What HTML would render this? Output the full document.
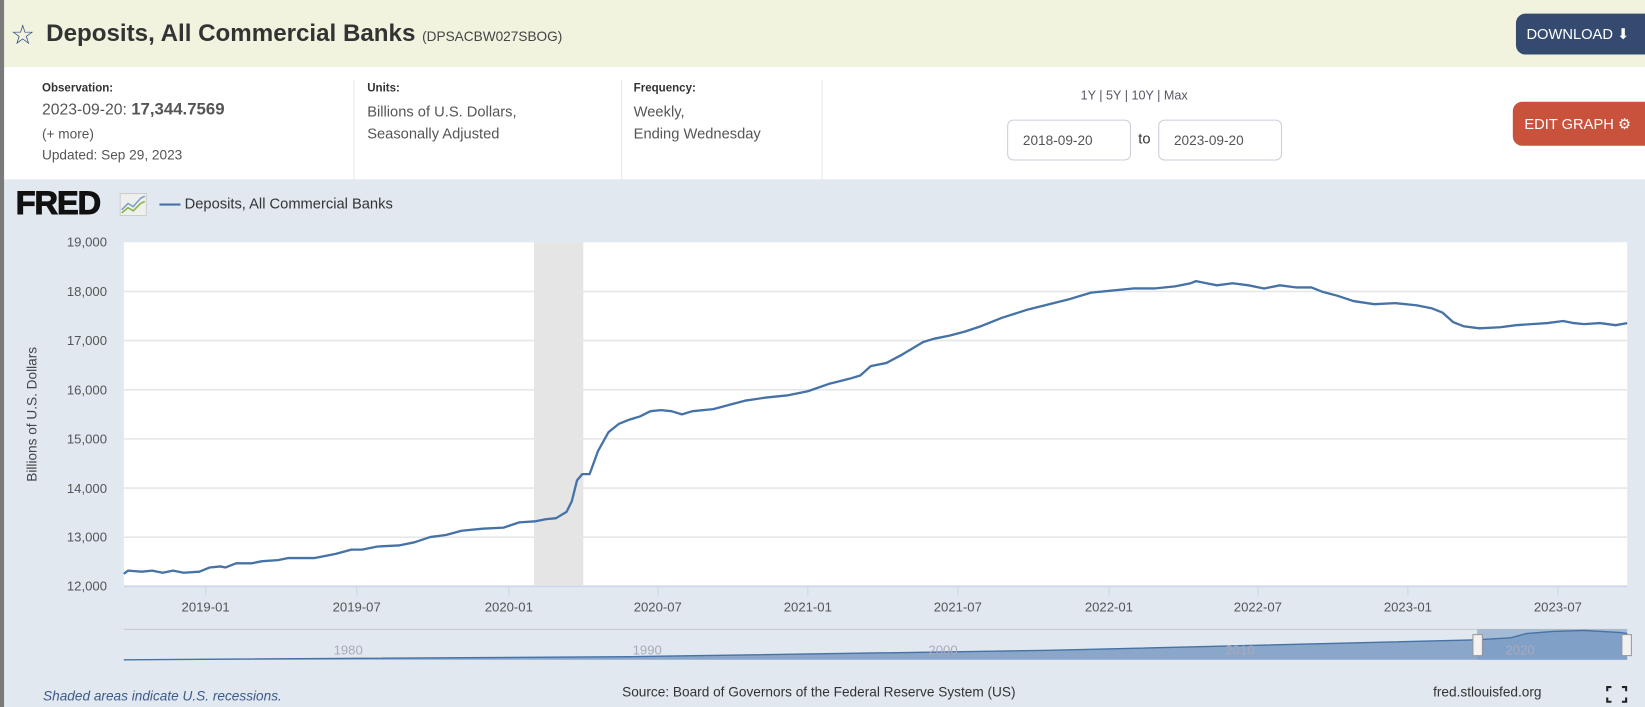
<!DOCTYPE html>
<html><head><meta charset="utf-8"><style>
html,body{margin:0;padding:0;width:1645px;height:707px;overflow:hidden;background:#fff;}
#w{position:absolute;left:0;top:0;width:1568px;height:674px;transform:scale(1.04911,1.04896);transform-origin:0 0;font-family:"Liberation Sans","DejaVu Sans",sans-serif;}
.a{position:absolute;white-space:nowrap;}
</style></head><body><div id="w">
<div class="a" style="left:0;top:0;width:4px;height:674px;background:#7a7a7a"></div>
<div class="a" style="left:4px;top:0;width:1564px;height:64px;background:#f1f3df"></div>
<div class="a" style="left:10px;top:18px;font-size:26px;color:#2b4c7e">☆</div>
<div class="a" style="left:44px;top:18px;font-size:23px;font-weight:bold;color:#333">Deposits, All Commercial Banks <span style="font-size:13px;font-weight:normal;color:#444">(DPSACBW027SBOG)</span></div>
<div class="a" style="left:1445px;top:13px;width:123px;height:39px;background:#344a6f;border-radius:9px 0 0 9px;color:#fff;font-size:14px;line-height:39px;padding-left:10px;box-sizing:border-box">DOWNLOAD ⬇</div>
<div class="a" style="left:4px;top:64px;width:1564px;height:107px;background:#fff"></div>
<div class="a" style="left:40px;top:78px;font-size:11px;font-weight:bold;color:#333">Observation:</div>
<div class="a" style="left:40px;top:96px;font-size:15px;color:#555">2023-09-20: <b style="font-size:16px;color:#555">17,344.7569</b></div>
<div class="a" style="left:40px;top:120px;font-size:13px;color:#555">(+ more)</div>
<div class="a" style="left:40px;top:140px;font-size:13px;color:#555">Updated: Sep 29, 2023</div>
<div class="a" style="left:337px;top:76px;width:1px;height:95px;background:#e3e8ee"></div>
<div class="a" style="left:350px;top:78px;font-size:11px;font-weight:bold;color:#333">Units:</div>
<div class="a" style="left:350px;top:96px;font-size:14px;color:#555;line-height:21px">Billions of U.S. Dollars,<br>Seasonally Adjusted</div>
<div class="a" style="left:592px;top:76px;width:1px;height:95px;background:#e3e8ee"></div>
<div class="a" style="left:604px;top:78px;font-size:11px;font-weight:bold;color:#333">Frequency:</div>
<div class="a" style="left:604px;top:96px;font-size:14px;color:#555;line-height:21px">Weekly,<br>Ending Wednesday</div>
<div class="a" style="left:783px;top:76px;width:1px;height:95px;background:#e3e8ee"></div>
<div class="a" style="left:1030px;top:84px;font-size:12px;color:#556">1Y | 5Y | 10Y | Max</div>
<div class="a" style="left:960px;top:114px;width:118px;height:39px;border:1px solid #ccd;border-radius:6px;box-sizing:border-box;font-size:13px;color:#555;line-height:37px;padding-left:14px">2018-09-20</div>
<div class="a" style="left:1085px;top:124px;font-size:14px;color:#333">to</div>
<div class="a" style="left:1104px;top:114px;width:118px;height:39px;border:1px solid #ccd;border-radius:6px;box-sizing:border-box;font-size:13px;color:#555;line-height:37px;padding-left:14px">2023-09-20</div>
<div class="a" style="left:1442px;top:97px;width:126px;height:42px;background:#c8523b;border-radius:9px 0 0 9px;color:#fff;font-size:14px;line-height:42px;padding-left:11px;box-sizing:border-box">EDIT GRAPH ⚙</div>
<div class="a" style="left:4px;top:171px;width:1564px;height:503px;background:#e1e8f0"></div>
<div class="a" style="left:15px;top:176px;font-size:31px;font-weight:900;color:#111;letter-spacing:-1px;-webkit-text-stroke:1px #111">FRED</div>
<svg class="a" style="left:114px;top:184px" width="26" height="22"><rect x="0.5" y="0.5" width="25" height="21" fill="#eef0ee" stroke="#ccc"/><polyline points="2,16 8,10 13,13 20,5 24,3" fill="none" stroke="#7aa0c8" stroke-width="1.5"/><polyline points="2,19 8,14 13,17 20,10 24,8" fill="none" stroke="#8ab34a" stroke-width="1.5"/></svg>
<div class="a" style="left:152px;top:194px;width:20px;height:2px;background:#4572a7"></div>
<div class="a" style="left:176px;top:186px;font-size:14px;color:#333">Deposits, All Commercial Banks</div>
<svg class="a" style="left:0;top:0" width="1568" height="674">
<rect x="118" y="231" width="1433" height="327" fill="#fff"/>
<rect x="509" y="231" width="47" height="327" fill="#e5e5e5"/>
<g stroke="#e6e6e6" stroke-width="1.5">
<line x1="118" x2="1551" y1="277.9" y2="277.9"/><line x1="118" x2="1551" y1="324.7" y2="324.7"/><line x1="118" x2="1551" y1="371.6" y2="371.6"/><line x1="118" x2="1551" y1="418.4" y2="418.4"/><line x1="118" x2="1551" y1="465.3" y2="465.3"/><line x1="118" x2="1551" y1="512.1" y2="512.1"/></g>
<line x1="118" x2="1551" y1="559" y2="559" stroke="#ccd6eb" stroke-width="1.5"/>
<g stroke="#ccd6eb"><line x1="196" x2="196" y1="559" y2="568"/><line x1="340" x2="340" y1="559" y2="568"/><line x1="485" x2="485" y1="559" y2="568"/><line x1="627" x2="627" y1="559" y2="568"/><line x1="770" x2="770" y1="559" y2="568"/><line x1="913" x2="913" y1="559" y2="568"/><line x1="1057" x2="1057" y1="559" y2="568"/><line x1="1199" x2="1199" y1="559" y2="568"/><line x1="1342" x2="1342" y1="559" y2="568"/><line x1="1485" x2="1485" y1="559" y2="568"/></g>
<g font-size="12.5" fill="#555" text-anchor="end" font-family="Liberation Sans, sans-serif">
<text x="102" y="235">19,000</text><text x="102" y="282">18,000</text><text x="102" y="329">17,000</text><text x="102" y="376">16,000</text><text x="102" y="423">15,000</text><text x="102" y="470">14,000</text><text x="102" y="516">13,000</text><text x="102" y="563">12,000</text></g>
<text transform="translate(35,395) rotate(-90)" font-size="13" fill="#444" text-anchor="middle" font-family="Liberation Sans, sans-serif">Billions of U.S. Dollars</text>
<g font-size="12.5" fill="#555" text-anchor="middle" font-family="Liberation Sans, sans-serif">
<text x="196" y="583">2019-01</text><text x="340" y="583">2019-07</text><text x="485" y="583">2020-01</text><text x="627" y="583">2020-07</text><text x="770" y="583">2021-01</text><text x="913" y="583">2021-07</text><text x="1057" y="583">2022-01</text><text x="1199" y="583">2022-07</text><text x="1342" y="583">2023-01</text><text x="1485" y="583">2023-07</text></g>
<polyline fill="none" stroke="#4572a7" stroke-width="2.2" stroke-linejoin="round" points="118,547 122,544 135,545 145,544 155,546 165,544 175,546 190,545 200,541 210,540 215,541 225,537 240,537 250,535 265,534 275,532 300,532 320,528 335,524 345,524 360,521 380,520 395,517 410,512 425,510 440,506 460,504 480,503 495,498 510,497 520,495 530,494 540,488 545,478 550,458 555,452 562,452 570,430 580,412 590,404 600,400 610,397 620,392 630,391 640,392 650,395 660,392 680,390 695,386 710,382 730,379 750,377 770,373 790,366 810,361 820,358 830,349 845,346 860,338 880,326 890,323 905,320 920,316 935,311 955,303 980,295 1000,290 1020,285 1040,279 1060,277 1080,275 1100,275 1120,273 1135,270 1140,268 1150,270 1160,272 1175,270 1190,272 1205,275 1220,272 1235,274 1250,274 1260,278 1275,282 1290,287 1310,290 1330,289 1350,291 1365,294 1375,298 1385,307 1395,311 1410,313 1430,312 1445,310 1460,309 1475,308 1490,306 1500,308 1510,309 1525,308 1540,310 1551,308"/>
<line x1="118" x2="1551" y1="600" y2="600" stroke="#c8c8c8"/>
<polygon points="118,629 600,626 1000,620 1408,610 1440,608 1455,604 1480,602 1510,601 1545,603 1551,604 1551,629" fill="#8aa6c8"/>
<rect x="1408" y="600" width="143" height="29" fill="#7c9cc6" opacity="0.6"/>
<polyline fill="none" stroke="#4572a7" stroke-width="1.3" points="118,629 600,626 1000,620 1408,610 1440,608 1455,604 1480,602 1510,601 1545,603 1551,604"/>
<g font-size="12.5" fill="#aab" font-family="Liberation Sans, sans-serif"><text x="318" y="624">1980</text><text x="603" y="624">1990</text><text x="885" y="624">2000</text><text x="1168" y="624">2010</text><text x="1435" y="624">2020</text></g>
<rect x="1404" y="605" width="9" height="20" fill="#f2f2f2" stroke="#999"/>
<rect x="1546" y="605" width="9" height="20" fill="#f2f2f2" stroke="#999"/>
<path d="M1536 655h-4v4M1546 655h4v4M1536 669h-4v-4M1546 669h4v-4" stroke="#222" stroke-width="2" fill="none"/>
</svg>
<div class="a" style="left:41px;top:656px;font-size:13px;font-style:italic;color:#3e5a8a">Shaded areas indicate U.S. recessions.</div>
<div class="a" style="left:593px;top:652px;font-size:13px;color:#333">Source: Board of Governors of the Federal Reserve System (US)</div>
<div class="a" style="left:1366px;top:652px;font-size:13px;color:#333">fred.stlouisfed.org</div>
</div></body></html>
